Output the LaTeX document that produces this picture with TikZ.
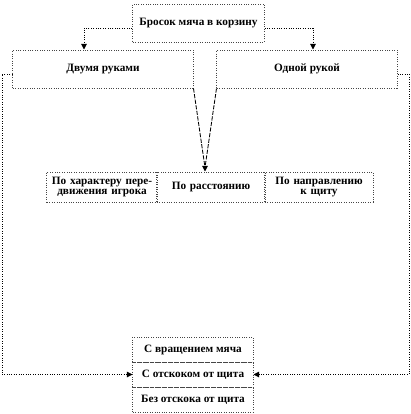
\documentclass[tikz,border=0pt]{standalone}
\usepackage{fontspec}
\setmainfont{Liberation Serif}
\usetikzlibrary{arrows.meta,positioning,calc}
\definecolor{boxcol}{RGB}{70,70,70}
\tikzset{
  plain box/.style={rectangle,draw=boxcol,densely dotted,line width=0.7pt,inner sep=1pt,
    font=\fontsize{8}{7.5}\selectfont\bfseries,align=center},
  head box/.style={plain box,minimum width=3.28cm,minimum height=0.95cm},
  kind box/.style={plain box,minimum width=4.5cm,minimum height=0.95cm},
  sort cell/.style={plain box,minimum width=2.7cm,minimum height=0.75cm,text width=2.6cm},
  spin cell/.style={plain box,minimum width=3cm,minimum height=0.625cm},
  treeedge/.style={-{Triangle[length=4pt,width=4pt]},draw=black,densely dotted,line width=0.7pt},
  sortedge/.style={draw=black,dash pattern=on 3pt off 1pt,line width=0.6pt}
}
\begin{document}
\begin{tikzpicture}[x=0.025cm,y=-0.025cm]
  \useasboundingbox (0,0) rectangle (410,414);

  \node[head box] (throw) at (198.5,23) {Бросок мяча в корзину};
  \node[kind box] (two) at (103,69) {Двумя руками};
  \node[kind box] (one) at (307,69) {Одной рукой};

  \node[sort cell,minimum width=2.75cm] (bymove) at (102,187) {По характеру пере-\\движения игрока};
  \node[sort cell] (bydist) at (211,187) {По расстоянию};
  \node[sort cell] (bydir)  at (319,187) {По направлению\\к щиту};

  \node[spin cell] (spin)   at (193,349.5) {С вращением мяча};
  \node[spin cell] (bounce) at (193,374.5) {С отскоком от щита};
  \node[spin cell] (nobnc)  at (193,399.5) {Без отскока от щита};

  \coordinate (lrail) at (2,200);
  \coordinate (rrail) at (409,200);

  % from the head box down to both kinds
  \draw[treeedge] ($(throw.west)+(0,5)$) -| ($(two.north)+(-19,0)$);
  \draw[treeedge] ($(throw.east)+(0,5)$) -| ($(one.north)+(6,0)$);

  % both kinds meet over the middle cell
  \draw[sortedge] (two.south east) -- ($(bydist.north)+(-6,-4)$);
  \draw[sortedge] (one.south west) -- ($(bydist.north)+(-6,-4)$);
  \draw[-{Triangle[length=4pt,width=4pt]},line width=0.7pt] ($(bydist.north)+(-6,-5)$) -- ($(bydist.north)+(-6,0)$);

  % outer rails down to the bounce cell
  \draw[treeedge] ($(two.west)+(0,5)$) -| (lrail) |- (bounce.west);
  \draw[treeedge] ($(one.east)+(0,5)$) -| (rrail) |- (bounce.east);
\end{tikzpicture}
\end{document}
